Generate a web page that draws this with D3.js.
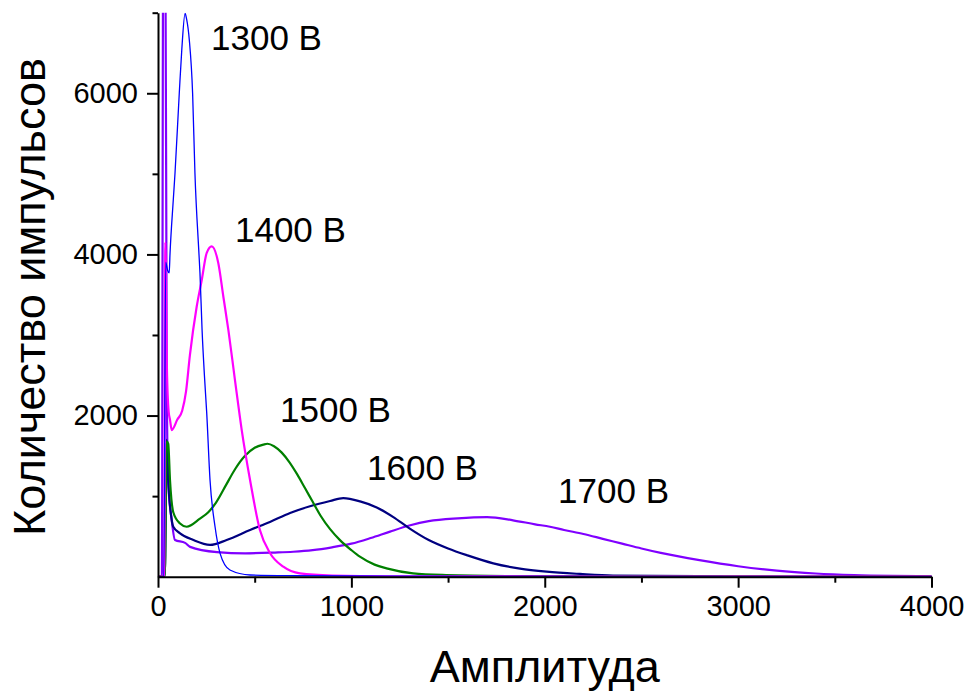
<!DOCTYPE html>
<html>
<head>
<meta charset="utf-8">
<script src="https://cdn.jsdelivr.net/npm/d3@7/dist/d3.min.js"></script>
<style>
  html, body { margin: 0; padding: 0; background: #fff; }
  svg { display: block; font-family: "Liberation Sans", Arial, sans-serif; }
</style>
</head>
<body>
<svg id="chart" width="968" height="693"></svg>
<script>
// ---- data ----
const seriesNames = ["1300 В", "1400 В", "1500 В", "1600 В", "1700 В"];

const s1300 = [[0,0],[30,0],[40,3900],[50,3800],[58,3770],[62,4000],[79,4675],[88,5010],[110,6000],[123,6540],[140,6990],[148,6920],[162,6660],[179,6000],[191,5010],[212,4000],[217,3770],[228,3060],[240,2500],[252,2030],[269,1200],[295,620],[321,290],[372,83],[476,21],[700,12],[1200,6],[2000,3],[4000,0]];

const s1400 = [[0,0],[32,0],[38,4150],[46,2600],[55,2050],[62,1950],[71,1820],[100,1950],[125,2060],[145,2300],[165,2750],[200,3350],[226,3680],[252,4020],[278,4100],[312,3890],[338,3475],[364,3060],[398,2440],[433,1820],[476,1200],[527,580],[579,295],[648,124],[734,42],[900,15],[1200,5],[4000,0]];

const s1500 = [[0,0],[35,0],[45,1680],[53,1650],[62,1200],[79,800],[114,660],[148,620],[217,720],[260,800],[300,920],[350,1130],[400,1340],[450,1500],[500,1600],[545,1640],[566,1650],[600,1620],[640,1540],[680,1420],[720,1270],[760,1100],[800,930],[840,760],[890,590],[941,454],[1000,330],[1044,248],[1120,150],[1182,104],[1319,42],[1490,20],[1800,8],[2500,3],[4000,0]];

const s1600 = [[0,0],[35,0],[45,1700],[53,1200],[71,704],[79,620],[114,539],[183,455],[269,395],[355,455],[476,580],[579,680],[683,790],[786,875],[890,940],[958,975],[1045,935],[1131,860],[1217,740],[1300,600],[1400,455],[1500,350],[1600,265],[1734,166],[1872,100],[2010,62],[2183,34],[2353,15],[3000,5],[4000,0]];

const s1700 = [[0,0],[20,0],[27,8000],[38,8000],[45,2600],[52,1200],[71,700],[88,455],[140,420],[166,370],[305,305],[450,290],[605,300],[700,310],[800,330],[900,365],[1000,410],[1100,480],[1200,560],[1300,635],[1400,690],[1550,725],[1702,740],[1836,700],[1950,650],[2027,620],[2100,580],[2200,530],[2300,470],[2400,410],[2500,350],[2600,295],[2800,205],[3000,130],[3200,75],[3400,40],[3600,20],[3800,10],[4000,5]];

const seriesData = [s1700, s1600, s1500, s1400, s1300];
const seriesColors = ["#8000ff", "#000080", "#008000", "#ff00ff", "#0000ff"];
const seriesWidths = [2.2, 2.2, 2.2, 2.2, 1.3];

const labelText = ["1300 В", "1400 В", "1500 В", "1600 В", "1700 В"];
const labelAt = [[274,6537],[398,4154],[631,1924],[1081,1203],[2069,917]];

const xMajor = [0, 1000, 2000, 3000, 4000];
const xMinor = [500, 1500, 2500, 3500];
const yMajor = [2000, 4000, 6000];
const yMinor = [1000, 3000, 5000, 7000];

const xTitle = "Амплитуда";
const yTitle = "Количество импульсов";

// ---- layout ----
const svg = d3.select("#chart");
const mLeft = 158, mRight = 931.5, mTop = 12.7, mBottom = 576.7;

const x = d3.scaleLinear().domain([0, 4000]).range([mLeft, mRight]);
const y = d3.scaleLinear().domain([0, 7000]).range([mBottom, mTop]);

svg.append("defs").append("clipPath").attr("id", "plotclip")
  .append("rect").attr("x", mLeft).attr("y", mTop)
  .attr("width", mRight - mLeft + 2).attr("height", mBottom - mTop);

const lineGen = d3.line().x(d => x(d[0])).y(d => y(d[1])).curve(d3.curveMonotoneX);

const g = svg.append("g").attr("clip-path", "url(#plotclip)");
seriesData.forEach((s, i) => {
  g.append("path")
    .datum(s)
    .attr("fill", "none")
    .attr("stroke", seriesColors[i])
    .attr("stroke-width", seriesWidths[i])
    .attr("stroke-linejoin", "round")
    .attr("d", lineGen);
});

// ---- axes ----
const fontTick = 29;
const xAxis = svg.append("g").attr("transform", `translate(0,${mBottom})`)
  .call(d3.axisBottom(x).tickValues(xMajor).tickSize(11).tickSizeOuter(0).tickPadding(8).tickFormat(d3.format("d")));
svg.append("g").attr("transform", `translate(0,${mBottom})`)
  .call(d3.axisBottom(x).tickValues(xMinor).tickSize(6).tickSizeOuter(0).tickFormat(""))
  .call(a => a.select(".domain").remove());

const yAxis = svg.append("g").attr("transform", `translate(${mLeft},0)`)
  .call(d3.axisLeft(y).tickValues(yMajor).tickSize(11).tickSizeOuter(0).tickPadding(9).tickFormat(d3.format("d")));
svg.append("g").attr("transform", `translate(${mLeft},0)`)
  .call(d3.axisLeft(y).tickValues(yMinor).tickSize(5.5).tickSizeOuter(0).tickFormat(""))
  .call(a => a.select(".domain").remove());

svg.selectAll(".domain").attr("stroke", "#000").attr("stroke-width", 2);
svg.selectAll(".tick line").attr("stroke", "#000").attr("stroke-width", 2);
svg.selectAll(".tick text").attr("font-size", fontTick).attr("fill", "#000")
  .attr("font-family", "'Liberation Sans', Arial, sans-serif");
xAxis.selectAll(".tick text").attr("dy", "0.71em");

// ---- annotations ----
labelText.forEach((t, i) => {
  svg.append("text")
    .attr("x", x(labelAt[i][0]))
    .attr("y", y(labelAt[i][1]))
    .attr("font-size", 35)
    .attr("fill", "#000")
    .text(t);
});

// ---- titles ----
svg.append("text")
  .attr("x", (mLeft + mRight) / 2)
  .attr("y", 682)
  .attr("text-anchor", "middle")
  .attr("font-size", 45)
  .attr("fill", "#000")
  .text(xTitle);

svg.append("text")
  .attr("transform", `translate(45,297) rotate(-90)`)
  .attr("text-anchor", "middle")
  .attr("font-size", 45)
  .attr("fill", "#000")
  .text(yTitle);
</script>
</body>
</html>
